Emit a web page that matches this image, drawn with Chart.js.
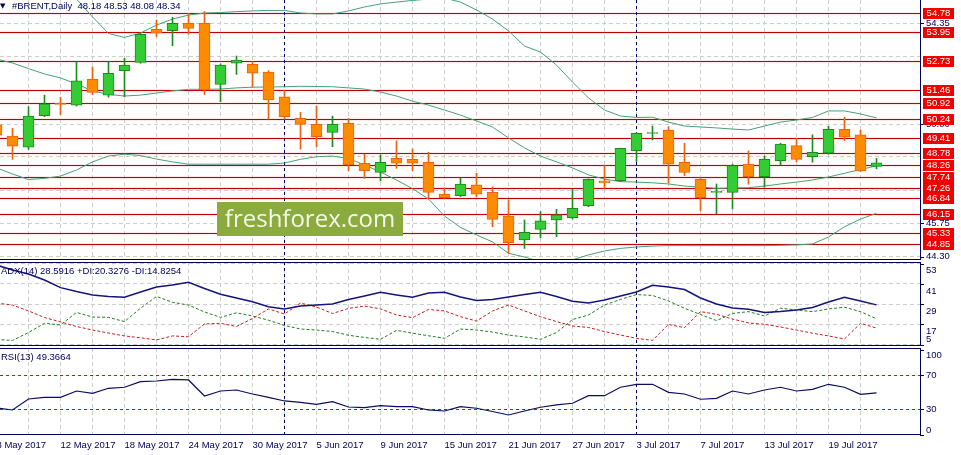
<!DOCTYPE html>
<html>
<head>
<meta charset="utf-8">
<script src="https://cdn.jsdelivr.net/npm/chart.js@4.4.1/dist/chart.umd.min.js"></script>
<style>
  html, body { margin: 0; padding: 0; background: #fff; }
  #wrap { position: relative; width: 961px; height: 455px; overflow: hidden; }
  canvas { position: absolute; left: 0; }
</style>
</head>
<body>
<div id="wrap">
  <canvas id="main" width="961" height="260" style="top:0px"></canvas>
  <canvas id="adx" width="961" height="84" style="top:262px"></canvas>
  <canvas id="rsi" width="961" height="107" style="top:348px"></canvas>
</div>
<script>
// trading days shown on the chart
const dates = [
  "8 May 2017", "9 May 2017", "10 May 2017", "11 May 2017", "12 May 2017",
  "15 May 2017", "16 May 2017", "17 May 2017", "18 May 2017", "19 May 2017",
  "22 May 2017", "23 May 2017", "24 May 2017", "25 May 2017", "26 May 2017",
  "29 May 2017", "30 May 2017", "31 May 2017", "1 Jun 2017", "2 Jun 2017",
  "5 Jun 2017", "6 Jun 2017", "7 Jun 2017", "8 Jun 2017", "9 Jun 2017",
  "12 Jun 2017", "13 Jun 2017", "14 Jun 2017", "15 Jun 2017", "16 Jun 2017",
  "19 Jun 2017", "20 Jun 2017", "21 Jun 2017", "22 Jun 2017", "23 Jun 2017",
  "26 Jun 2017", "27 Jun 2017", "28 Jun 2017", "29 Jun 2017", "30 Jun 2017",
  "3 Jul 2017", "4 Jul 2017", "5 Jul 2017", "6 Jul 2017", "7 Jul 2017",
  "10 Jul 2017", "11 Jul 2017", "12 Jul 2017", "13 Jul 2017", "14 Jul 2017",
  "17 Jul 2017", "18 Jul 2017", "19 Jul 2017", "20 Jul 2017", "21 Jul 2017",
  "24 Jul 2017",
];

const open = [
  49.97, 49.49, 49.01, 50.37, 50.88, 50.82, 51.93, 51.25, 52.30, 52.66,
  54.08, 54.02, 54.34, 54.34, 51.71, 52.62, 52.57, 52.24, 51.18, 50.25,
  49.99, 49.65, 50.04, 48.32, 47.93, 48.53, 48.49, 48.36, 46.99, 46.93,
  47.39, 47.07, 46.05, 45.02, 45.48, 45.88, 45.98, 46.50, 47.56, 47.57,
  48.86, 49.60, 49.75, 48.36, 47.63, 47.07, 47.07, 48.28, 47.74, 48.43,
  49.08, 48.60, 48.75, 49.78, 49.54, 48.18,
];
const high = [
  50.10, 49.82, 50.75, 51.25, 51.16, 52.69, 52.45, 52.69, 52.83, 53.92,
  54.48, 54.60, 54.77, 54.84, 52.59, 52.93, 52.69, 52.30, 51.47, 50.51,
  50.78, 50.35, 50.25, 48.71, 48.68, 49.28, 48.93, 48.79, 47.27, 47.67,
  47.89, 47.31, 46.74, 45.88, 46.24, 46.34, 47.21, 47.65, 48.22, 48.97,
  49.63, 49.92, 49.89, 49.18, 47.70, 47.43, 48.28, 48.85, 48.63, 49.18,
  49.39, 49.54, 49.92, 50.30, 49.75, 48.53,
];
const low = [
  49.40, 48.49, 48.92, 50.32, 50.41, 50.78, 51.27, 51.16, 51.18, 52.62,
  53.76, 53.37, 53.86, 51.28, 50.97, 52.14, 51.59, 50.22, 50.22, 48.93,
  49.03, 49.03, 48.00, 47.67, 47.56, 48.10, 48.00, 46.81, 46.81, 46.88,
  46.88, 45.59, 44.45, 44.66, 45.12, 45.16, 45.92, 46.45, 47.24, 47.53,
  48.39, 49.32, 47.48, 47.79, 46.28, 46.14, 46.35, 47.42, 47.29, 48.25,
  48.39, 48.36, 48.71, 49.29, 47.96, 48.08,
];
const close = [
  49.53, 49.06, 50.35, 50.87, 50.85, 51.86, 51.37, 52.19, 52.54, 53.86,
  53.91, 54.34, 54.12, 51.47, 52.54, 52.76, 52.19, 51.04, 50.32, 49.99,
  49.46, 49.99, 48.25, 48.00, 48.36, 48.32, 48.32, 47.07, 46.84, 47.42,
  46.99, 45.91, 44.91, 45.35, 45.84, 46.10, 46.38, 47.63, 47.48, 48.96,
  49.61, 49.62, 48.28, 47.93, 46.84, 47.10, 48.22, 47.74, 48.49, 49.15,
  48.49, 48.79, 49.78, 49.44, 47.99, 48.34,
];

// Bollinger bands
const bbUpper = [
  57.27, 57.27, 57.06, 56.63, 55.98, 55.38, 54.61, 53.90, 53.73, 53.92,
  54.26, 54.52, 54.69, 54.78, 54.80, 54.84, 54.87, 54.89, 54.89, 54.78,
  54.74, 54.74, 54.87, 55.04, 55.17, 55.25, 55.32, 55.38, 55.42, 55.25,
  54.91, 54.52, 54.01, 53.36, 53.10, 52.54, 51.81, 51.13, 50.61, 50.35,
  50.29, 50.30, 50.09, 49.92, 49.88, 49.84, 49.79, 49.75, 49.92, 50.09,
  50.18, 50.29, 50.57, 50.57, 50.44, 50.27,
];
const bbMiddle = [
  52.80, 52.63, 52.39, 52.16, 51.99, 51.73, 51.43, 51.28, 51.21, 51.25,
  51.34, 51.43, 51.50, 51.50, 51.51, 51.56, 51.59, 51.60, 51.61, 51.63,
  51.62, 51.61, 51.56, 51.51, 51.38, 51.21, 50.99, 50.82, 50.61, 50.39,
  50.14, 49.88, 49.41, 48.98, 48.63, 48.38, 48.12, 47.82, 47.64, 47.53,
  47.51, 47.48, 47.43, 47.34, 47.30, 47.24, 47.26, 47.27, 47.34, 47.43,
  47.51, 47.60, 47.73, 47.89, 48.05, 48.21,
];
const bbLower = [
  48.12, 47.86, 47.62, 47.67, 47.77, 48.03, 48.38, 48.63, 48.71, 48.65,
  48.50, 48.38, 48.28, 48.28, 48.28, 48.28, 48.28, 48.28, 48.33, 48.49,
  48.60, 48.63, 48.52, 48.25, 47.94, 47.60, 47.23, 46.78, 46.05, 45.56,
  45.24, 44.94, 44.45, 44.29, 44.08, 44.04, 44.17, 44.38, 44.55, 44.66,
  44.72, 44.76, 44.78, 44.78, 44.78, 44.78, 44.78, 44.78, 44.78, 44.79,
  44.81, 44.85, 45.15, 45.59, 45.92, 46.17,
];

// ADX(14)
const adx = [
  52.2, 49.3, 46.9, 43.3, 38.8, 36.5, 34.5, 33.6, 33.1, 36.2,
  39.2, 40.4, 42.0, 38.3, 34.9, 32.7, 30.5, 27.5, 26.2, 27.9,
  28.5, 29.1, 31.8, 33.9, 36.1, 34.5, 33.1, 35.6, 36.1, 33.3,
  31.2, 31.8, 33.3, 34.7, 36.1, 33.6, 30.7, 29.7, 31.5, 33.9,
  36.2, 40.2, 39.2, 37.7, 32.7, 29.1, 26.7, 26.0, 24.1, 24.7,
  25.6, 27.0, 30.3, 33.1, 30.9, 28.59,
];
const plusDI = [
  8.1, 7.5, 12.2, 17.7, 16.7, 24.1, 21.4, 21.2, 18.7, 26.6,
  33.6, 30.1, 28.5, 24.4, 21.2, 23.9, 22.0, 19.5, 16.4, 14.3,
  13.7, 12.8, 10.6, 9.3, 8.2, 13.5, 11.8, 10.3, 8.8, 14.3,
  13.7, 12.5, 10.7, 9.6, 8.2, 12.2, 19.9, 22.6, 28.5, 31.8,
  34.7, 34.2, 30.9, 26.6, 22.9, 19.3, 23.5, 24.6, 22.0, 26.6,
  25.6, 24.6, 26.2, 27.2, 24.6, 20.33,
];
const minusDI = [
  29.7, 28.5, 25.0, 21.1, 18.5, 15.8, 13.7, 11.9, 10.2, 9.1,
  7.8, 10.2, 9.7, 17.3, 17.7, 15.8, 20.5, 26.2, 23.2, 29.7,
  27.3, 23.5, 26.5, 27.9, 26.2, 22.6, 21.0, 25.9, 25.0, 21.6,
  19.0, 25.0, 28.5, 25.0, 21.6, 18.7, 16.1, 15.2, 12.8, 10.7,
  8.8, 7.6, 17.0, 15.1, 24.6, 23.0, 20.2, 17.9, 17.1, 15.5,
  13.7, 11.8, 10.2, 8.4, 17.7, 14.83,
];

// RSI(13)
const rsi = [
  31.5, 29.2, 42.1, 44.1, 44.1, 51.5, 48.8, 54.7, 55.9, 62.5,
  63.3, 65.3, 64.5, 45.6, 51.5, 52.7, 48.0, 44.1, 39.8, 38.2,
  35.9, 38.9, 32.7, 31.9, 34.2, 33.1, 33.1, 29.2, 28.0, 33.1,
  31.2, 27.4, 23.3, 28.0, 32.4, 35.1, 37.1, 46.0, 46.0, 55.9,
  59.4, 59.4, 50.0, 48.0, 41.8, 42.9, 51.5, 48.0, 52.7, 55.9,
  51.5, 53.5, 59.4, 55.9, 47.6, 49.37,
];

// horizontal price levels with their red tags
const levels = [54.78, 53.95, 52.73, 51.46, 50.92, 50.24, 49.41, 48.78, 48.26, 47.74, 47.26, 46.84, 46.15, 45.33, 44.85];
const priceGrid = [54.35, 52.90, 51.45, 50.00, 48.60, 47.15, 45.75, 44.30];
const priceLabels = [54.35, 50.00, 45.75, 44.30];
const adxTicks = [53, 41, 29, 17, 5];
const rsiTicks = [100, 70, 30, 0];
const rsiLevels = [70, 30];

const symbolTitle = "#BRENT,Daily";
const adxTitle = "ADX(14) 28.5916 +DI:20.3276 -DI:14.8254";
const rsiTitle = "RSI(13) 49.3664";

const NAVY = "#00005a";
const GRID = "#cdcdcd";
const FONT = '9.5px "Liberation Sans", Arial, sans-serif';
const UP_FILL = "#32cd32", UP_LINE = "#1f8a1f";
const DN_FILL = "#ff8c00", DN_LINE = "#f06010";
const BB = "#45a07a";

Chart.defaults.font.family = '"Liberation Sans", Arial, sans-serif';
Chart.defaults.font.size = 9.5;
Chart.defaults.color = NAVY;

const X_MIN = 0.21875;
const X_MAX = X_MIN + 920 / 16;
const idx = dates.map((d, i) => i);
const gridIdx = idx.filter((i) => i % 2 === 0);
const separators = idx.filter((i) => i > 0 && dates[i].split(" ")[1] !== dates[i - 1].split(" ")[1]);
const last = dates.length - 1;
const isUp = (i) => close[i] >= open[i];

function xAxis(showLabels) {
  return {
    type: "linear",
    min: X_MIN,
    max: X_MAX,
    offset: false,
    afterBuildTicks: (s) => { s.ticks = gridIdx.map((v) => ({ value: v })); },
    grid: { color: GRID, drawTicks: false, offset: false },
    border: { display: false, dash: [4, 3] },
    ticks: {
      display: showLabels,
      autoSkip: false,
      maxRotation: 0,
      minRotation: 0,
      align: "start",
      padding: 5,
      color: NAVY,
      callback: (v) => (v % 4 === 0 ? dates[v] : ""),
    },
    afterFit: (s) => { s.height = showLabels ? 20 : 0; s.paddingLeft = 0; s.paddingRight = 0; },
  };
}

function yAxis(min, max, grid) {
  return {
    position: "right",
    min: min,
    max: max,
    afterBuildTicks: (s) => { s.ticks = grid.map((v) => ({ value: v })); },
    grid: { display: grid.length > 0, color: GRID, drawTicks: false },
    border: { display: false, dash: [4, 3] },
    ticks: { display: false },
    afterFit: (s) => { s.width = 41; },
  };
}

function decor(cfg) {
  return {
    id: "decor",
    beforeDatasetsDraw(chart) {
      const { ctx, chartArea: a, scales: { x, y } } = chart;
      ctx.save();
      ctx.lineWidth = 1;
      ctx.setLineDash([3, 3]);
      ctx.strokeStyle = "#c81414";
      (cfg.dashLevels || []).forEach((v) => {
        const py = Math.round(y.getPixelForValue(v)) + 0.5;
        ctx.beginPath(); ctx.moveTo(a.left, py); ctx.lineTo(a.right, py); ctx.stroke();
      });
      ctx.setLineDash([]);
      (cfg.levels || []).forEach((v) => {
        const py = Math.round(y.getPixelForValue(v)) + 0.5;
        ctx.strokeStyle = "rgba(255,90,90,0.14)";
        ctx.lineWidth = 3;
        ctx.beginPath(); ctx.moveTo(a.left, py); ctx.lineTo(a.right, py); ctx.stroke();
        ctx.strokeStyle = "#c00000";
        ctx.lineWidth = 1;
        ctx.beginPath(); ctx.moveTo(a.left, py); ctx.lineTo(a.right, py); ctx.stroke();
      });
      ctx.lineWidth = 1;
      ctx.setLineDash([3, 3]);
      ctx.strokeStyle = NAVY;
      separators.forEach((i) => {
        const px = Math.floor(x.getPixelForValue(i)) + 0.5;
        ctx.beginPath(); ctx.moveTo(px, a.top); ctx.lineTo(px, a.bottom); ctx.stroke();
      });
      ctx.restore();
    },
    afterDatasetsDraw(chart) {
      if (!cfg.watermark) return;
      const { ctx } = chart;
      ctx.save();
      ctx.fillStyle = "#8cab3e";
      ctx.fillRect(217, 202, 186, 34);
      ctx.fillStyle = "#f4f8ec";
      ctx.font = '24px "Open Sans", "Noto Sans", sans-serif';
      ctx.textAlign = "center";
      ctx.textBaseline = "alphabetic";
      ctx.fillText("freshforex.com", 310, 227);
      ctx.restore();
    },
    afterDraw(chart) {
      const { ctx, chartArea: a, scales: { y } } = chart;
      ctx.save();
      ctx.strokeStyle = NAVY;
      ctx.lineWidth = 1;
      ctx.setLineDash([]);
      ctx.beginPath();
      if (cfg.frameTop) { ctx.moveTo(a.left, a.top + 0.5); ctx.lineTo(a.right + 1, a.top + 0.5); }
      ctx.moveTo(a.left, a.bottom - 0.5); ctx.lineTo(a.right + 1, a.bottom - 0.5);
      ctx.moveTo(a.right + 0.5, a.top); ctx.lineTo(a.right + 0.5, a.bottom);
      ctx.stroke();

      // right axis labels
      ctx.font = FONT;
      ctx.fillStyle = NAVY;
      ctx.textAlign = "left";
      ctx.textBaseline = "middle";
      cfg.ticks.forEach((v) => {
        const p0 = y.getPixelForValue(v);
        let py = p0 + cfg.labelOffset;
        py = Math.max(a.top + cfg.clamp[0], Math.min(a.bottom - cfg.clamp[1], py));
        ctx.fillText(cfg.format(v), a.right + 6, py);
        const ty = Math.round(p0) + 0.5;
        ctx.beginPath(); ctx.moveTo(a.right, ty); ctx.lineTo(a.right + 4, ty); ctx.stroke();
      });

      // red level tags
      (cfg.levels || []).forEach((v) => {
        const py = Math.round(y.getPixelForValue(v));
        ctx.fillStyle = "#f20000";
        ctx.fillRect(a.right + 3, py - 5, 31, 11);
        ctx.fillStyle = "#ffffff";
        ctx.textAlign = "center";
        ctx.fillText(v.toFixed(2), a.right + 18.5, py + 0.5);
      });

      // panel title
      ctx.fillStyle = NAVY;
      ctx.textAlign = "left";
      if (cfg.header) {
        ctx.font = '7px "DejaVu Sans", sans-serif';
        ctx.fillText("▼", 0, a.top + 6);
        ctx.font = FONT;
        const ohlc = [open[last], high[last], low[last], close[last]].map((v) => v.toFixed(2)).join(" ");
        ctx.fillText(symbolTitle + "  " + ohlc, 12, a.top + 6);
      }
      if (cfg.title) {
        ctx.font = FONT;
        ctx.fillText(cfg.title, 1, a.top + 9);
      }
      ctx.restore();
    },
  };
}

const common = {
  responsive: false,
  animation: false,
  events: [],
  devicePixelRatio: 1,
  layout: { padding: 0, autoPadding: false },
  plugins: { legend: { display: false }, tooltip: { enabled: false } },
};

function series(values, color, width, dash) {
  return {
    type: "line",
    data: values.map((v, i) => ({ x: i, y: v })),
    borderColor: color,
    borderWidth: width,
    borderDash: dash || [],
    pointRadius: 0,
    tension: 0,
    fill: false,
  };
}

// price panel
new Chart(document.getElementById("main"), {
  type: "bar",
  data: {
    datasets: [
      {
        type: "bar",
        data: idx.map((i) => ({ x: i, y: [open[i], close[i]] })),
        grouped: false,
        barThickness: 11,
        minBarLength: 1,
        borderWidth: 1,
        borderSkipped: false,
        backgroundColor: (c) => (isUp(c.dataIndex) ? UP_FILL : DN_FILL),
        borderColor: (c) => (isUp(c.dataIndex) ? UP_LINE : DN_LINE),
      },
      {
        type: "bar",
        data: idx.map((i) => ({ x: i, y: [low[i], high[i]] })),
        grouped: false,
        barThickness: 1,
        borderWidth: 0,
        backgroundColor: (c) => (isUp(c.dataIndex) ? UP_LINE : DN_LINE),
      },
      series(bbUpper, BB, 1),
      series(bbMiddle, BB, 1),
      series(bbLower, BB, 1),
    ],
  },
  options: {
    ...common,
    scales: { x: xAxis(false), y: yAxis(44.161, 55.339, priceGrid) },
  },
  plugins: [decor({
    levels: levels,
    ticks: priceLabels,
    format: (v) => v.toFixed(2),
    labelOffset: 0,
    clamp: [5, 3],
    header: true,
    watermark: true,
  })],
});

// ADX panel
new Chart(document.getElementById("adx"), {
  type: "line",
  data: {
    datasets: [
      series(adx, "#14147a", 1.5),
      series(plusDI, "#1f7f1f", 1, [3, 2]),
      series(minusDI, "#c81e1e", 1, [3, 2]),
    ],
  },
  options: {
    ...common,
    scales: { x: xAxis(false), y: yAxis(4.23, 54.0, adxTicks) },
  },
  plugins: [decor({
    ticks: adxTicks,
    format: (v) => String(v),
    labelOffset: 7,
    clamp: [6, 7],
    frameTop: true,
    title: adxTitle,
  })],
});

// RSI panel
new Chart(document.getElementById("rsi"), {
  type: "line",
  data: {
    datasets: [series(rsi, "#0c0c5c", 1.2)],
  },
  options: {
    ...common,
    scales: { x: xAxis(true), y: yAxis(-0.24, 102.1, []) },
  },
  plugins: [decor({
    dashLevels: rsiLevels,
    ticks: rsiTicks,
    format: (v) => String(v),
    labelOffset: 0,
    clamp: [7, 5],
    frameTop: true,
    title: rsiTitle,
  })],
});
</script>
</body>
</html>
